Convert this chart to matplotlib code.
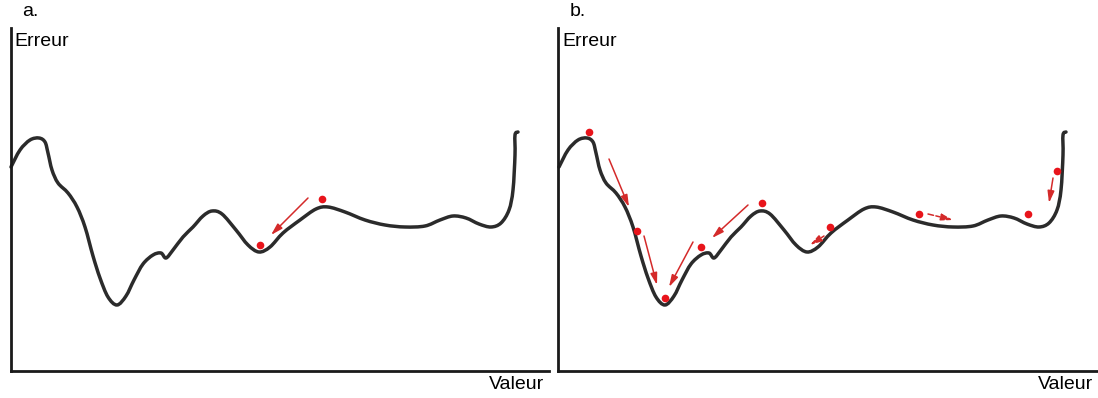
import numpy as np
import matplotlib.pyplot as plt
from matplotlib.path import Path
from matplotlib.patches import PathPatch

plt.rcParams['font.family'] = ['Liberation Sans', 'DejaVu Sans']

# error curve (pixel units, y grows downward)
curve_x = [11, 20, 30, 39, 45, 48, 52, 58, 68, 77, 85, 93, 100, 108, 117, 126, 134,
           143, 153, 161, 166, 173, 183, 193, 203, 212, 222, 236, 248, 259, 270, 283,
           300, 316, 328, 345, 365, 385, 405, 425, 440, 453, 466, 479, 491, 501,
           509, 513, 515, 515, 518]
curve_y = [167, 150, 140, 138, 142, 153, 170, 183, 193, 207, 227, 256, 278, 297, 305, 296,
           280, 264, 255, 253, 258, 250, 237, 227, 216, 211, 214, 230, 245, 252, 247, 233,
           220, 209, 207, 212, 220, 225, 227, 226, 220, 216, 218, 224, 227, 223,
           210, 190, 155, 135, 132]

# panel a: one point sliding into a local minimum
dots_a_x = [322, 260]
dots_a_y = [199, 245]
arrows_a = [((308, 198), (271, 235))]

# panel b: many starting points
dots_b_x = [589, 637, 665, 701, 762, 830, 919, 1028, 1057]
dots_b_y = [132, 231, 298, 247, 203, 227, 214, 214, 171]
arrows_b = [((609, 159), (629, 207)),
            ((644, 236), (657, 285)),
            ((693, 242), (669, 287)),
            ((748, 205), (712, 238)),
            ((824, 236), (810, 245)),
            ((928, 214), (953, 220)),
            ((1053, 178), (1049, 203))]
dashed_b = [False, False, False, False, True, True, False]

panel_shift = 548
W, H = 1098, 398

fig = plt.figure(figsize=(W / 100, H / 100), dpi=100)


def make_panel(x0, x1, label):
    ax = fig.add_axes([x0 / W, 1 - 371 / H, (x1 - x0) / W, (371 - 28) / H])
    ax.set_xlim(x0, x1)
    ax.set_ylim(371, 28)
    for s in ['top', 'right']:
        ax.spines[s].set_visible(False)
    for s in ['left', 'bottom']:
        ax.spines[s].set_linewidth(2)
        ax.spines[s].set_color('#1a1a1a')
    ax.set_xticks([])
    ax.set_yticks([])
    ax.text(x0 + 20, 12, label, fontsize=14, ha='center', va='center')
    ax.text(x0 + 4, 42, 'Erreur', fontsize=14, ha='left', va='center')
    ax.text(x1 - 5, 385, 'Valeur', fontsize=14, ha='right', va='center')
    return ax


def smooth_path(xs, ys):
    # bezier path through the read points (catmull-rom tangents)
    p = np.column_stack([xs, ys]).astype(float)
    p = np.vstack([p[0], p, p[-1]])
    verts = [p[1]]
    codes = [Path.MOVETO]
    for i in range(1, len(p) - 2):
        c1 = p[i] + (p[i + 1] - p[i - 1]) / 6
        c2 = p[i + 1] - (p[i + 2] - p[i]) / 6
        verts += [c1, c2, p[i + 1]]
        codes += [Path.CURVE4] * 3
    return Path(verts, codes)


ax1 = make_panel(10.5, 549, 'a.')
ax2 = make_panel(558, 1098, 'b.')

cx = np.array(curve_x)
cy = np.array(curve_y)
for ax, shift in [(ax1, 0), (ax2, panel_shift)]:
    ax.add_patch(PathPatch(smooth_path(cx + shift, cy), facecolor='none',
                           edgecolor='#2b2b2b', lw=2.5, capstyle='round',
                           joinstyle='round', clip_on=False))

red = '#e8141b'
ax1.plot(dots_a_x, dots_a_y, 'o', color=red, ms=5.5, mec='none')
ax2.plot(dots_b_x, dots_b_y, 'o', color=red, ms=5.5, mec='none')


def draw_arrow(ax, start, end, dashed=False):
    ax.annotate('', xy=end, xytext=start,
                arrowprops=dict(arrowstyle='-|>,head_length=0.7,head_width=0.2',
                                color='#d42a2a', lw=1.1,
                                linestyle='--' if dashed else '-',
                                shrinkA=0, shrinkB=0))


for s, e in arrows_a:
    draw_arrow(ax1, s, e)
for (s, e), d in zip(arrows_b, dashed_b):
    draw_arrow(ax2, s, e, d)

fig.savefig('out.png', dpi=100)
